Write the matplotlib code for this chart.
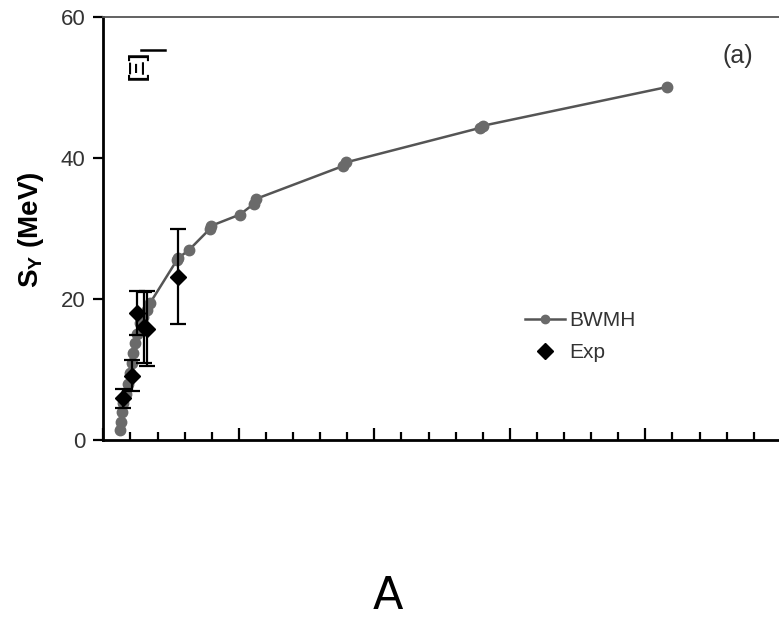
import matplotlib
matplotlib.use("Agg")
import matplotlib.pyplot as plt
from matplotlib.lines import Line2D
from matplotlib.ticker import MultipleLocator, NullFormatter

# BWMH calculation
bwmh_x = [0.62, 0.64, 0.68, 0.74, 0.84, 0.92, 0.99, 1.05, 1.11, 1.17, 1.23,
          1.35, 1.48, 1.60, 1.72, 2.71, 2.76, 3.17, 3.94, 3.98, 5.04, 5.55,
          5.62, 8.85, 8.95, 13.9, 14.0, 20.8]
bwmh_y = [1.4, 2.6, 4.0, 5.2, 6.6, 8.0, 9.5, 10.9, 12.3, 13.7, 15.1,
          16.6, 17.5, 18.4, 19.4, 25.5, 25.8, 27.0, 30.0, 30.4, 32.0, 33.5,
          34.2, 38.9, 39.4, 44.3, 44.6, 50.1]

# Experimental values with uncertainties
exp_x = [0.74, 1.07, 1.25, 1.50, 1.60, 2.77]
exp_y = [5.9, 9.1, 18.0, 16.0, 15.8, 23.2]
exp_err = [1.4, 2.2, 3.1, 5.0, 5.3, 6.7]

y_ticks = [0, 20, 40, 60]

plt.rcParams['font.family'] = ['Liberation Sans', 'DejaVu Sans']

fig = plt.figure(figsize=(7.79, 6.2), dpi=100)
W, H = 779, 620
ax = fig.add_axes([103.3 / W, 1 - 440 / H, (780.8 - 103.3) / W, (440 - 17.3) / H])

line_c, mark_c = '#555555', '#6a6a6a'
ax.plot(bwmh_x, bwmh_y, '-o', color=line_c, lw=1.8, ms=7.5,
        mfc=mark_c, mec=mark_c, zorder=2)
ax.errorbar(exp_x, exp_y, yerr=exp_err, fmt='D', color='black', ms=8.5,
            ecolor='black', elinewidth=1.6, capsize=5.5, capthick=1.6,
            zorder=3)

ax.set_xlim(0, 25)
ax.set_ylim(0, 60)
ax.set_yticks(y_ticks)
ax.tick_params(axis='y', direction='out', length=7, width=1.6,
               labelsize=16, labelcolor='#333333', pad=6)
ax.xaxis.set_major_locator(MultipleLocator(5))
ax.xaxis.set_minor_locator(MultipleLocator(1))
ax.xaxis.set_major_formatter(NullFormatter())
ax.tick_params(axis='x', which='major', direction='in', length=9, width=1.6)
ax.tick_params(axis='x', which='minor', direction='in', length=6, width=1.6)

ax.spines['left'].set_linewidth(2.0)
ax.spines['bottom'].set_linewidth(2.0)
ax.spines['top'].set_linewidth(1.3)
ax.spines['top'].set_color('#555555')
ax.spines['right'].set_visible(False)

ax.set_ylabel('S$_\\mathregular{Y}$ (MeV)', fontsize=20, fontweight='bold')
ax.yaxis.set_label_coords(31 / W, 1 - 230 / H, transform=fig.transFigure)
ax.yaxis.label.set_verticalalignment('center')

ax.text(738 / W, 1 - 56 / H, '(a)', transform=fig.transFigure, fontsize=18,
        color='#333333', ha='center', va='center')

# small bracketed symbol in the upper-left corner
fig.text(138 / W, 1 - 66 / H, '[Ξ]', rotation=90, fontsize=16,
         fontweight='bold', ha='center', va='center')
fig.add_artist(Line2D([141 / W, 165 / W], [1 - 50 / H, 1 - 50 / H],
                      color='black', lw=1.8, transform=fig.transFigure))

handles = [
    Line2D([], [], color=line_c, lw=1.8, marker='o', ms=6, mfc=mark_c, mec=mark_c),
    Line2D([], [], ls='none', marker='D', ms=8.5, color='black'),
]
ax.legend(handles, ['BWMH', 'Exp'], loc='center left',
          bbox_to_anchor=((525 - 103.3) / 677.5, (440 - 336.5) / 422.7),
          frameon=False, fontsize=15, handlelength=1.92, handletextpad=0.2,
          labelspacing=0.62, borderpad=0, borderaxespad=0,
          labelcolor='#333333')

fig.text(388 / W, 1 - 609 / H, 'A', fontsize=32, family='DejaVu Sans',
         ha='center', va='baseline')

fig.savefig('out.png', dpi=100)
